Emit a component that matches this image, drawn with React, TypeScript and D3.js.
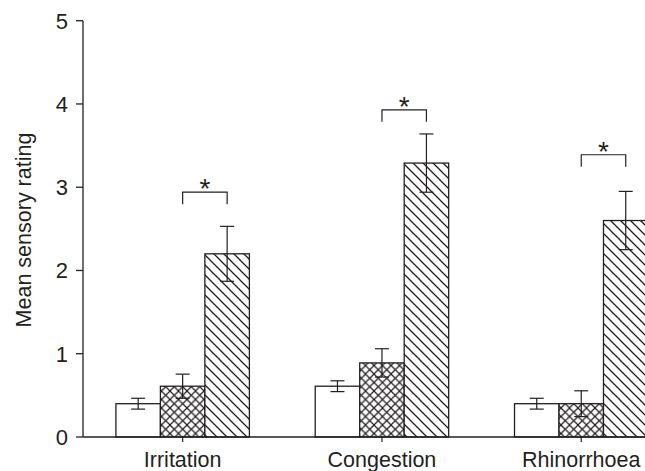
import React from 'react';
import * as d3 from 'd3';

const categories = ['Irritation', 'Congestion', 'Rhinorrhoea'];
const seriesKeys = ['open', 'crosshatch', 'hatched'];
const openMeans = [0.40, 0.61, 0.40];
const openErr = [0.065, 0.065, 0.065];
const crossMeans = [0.61, 0.89, 0.40];
const crossErr = [0.145, 0.17, 0.155];
const hatchMeans = [2.20, 3.29, 2.60];
const hatchErr = [0.33, 0.35, 0.35];
const bracketLevels = [2.94, 3.93, 3.39];
const yTicks = [0, 1, 2, 3, 4, 5];
const yLabel = 'Mean sensory rating';

const W = 645, H = 471;
const axisX = 83;
const INK = '#231f20';
const FONT = '"Liberation Sans", Arial, Helvetica, sans-serif';

export default function App() {
  const y = d3.scaleLinear().domain([0, 5]).range([437, 20.7]);
  const x = d3.scaleBand<string>().domain(categories).range([axisX, axisX + 3 * 199.3]).paddingInner(0).paddingOuter(0);
  const xi = d3.scaleBand<string>().domain(seriesKeys).range([0, x.bandwidth()]).paddingInner(0).paddingOuter(0.74);

  const series = [
    { key: 'open', means: openMeans, errs: openErr, fill: 'white' },
    { key: 'crosshatch', means: crossMeans, errs: crossErr, fill: 'url(#cross)' },
    { key: 'hatched', means: hatchMeans, errs: hatchErr, fill: 'url(#diag)' },
  ];
  const bw = xi.bandwidth();

  return (
    <svg width={W} height={H} style={{ position: 'absolute', left: 0, top: 0, background: 'white' }} fontFamily={FONT}>
      <defs>
        <pattern id="diag" patternUnits="userSpaceOnUse" width={10} height={10}>
          <rect width={10} height={10} fill="white" />
          <line x1={0} y1={0} x2={10} y2={10} stroke={INK} strokeWidth={1.3} />
          <line x1={-5} y1={5} x2={5} y2={15} stroke={INK} strokeWidth={1.3} />
          <line x1={5} y1={-5} x2={15} y2={5} stroke={INK} strokeWidth={1.3} />
        </pattern>
        <pattern id="cross" patternUnits="userSpaceOnUse" width={8.5} height={8.5}>
          <rect width={8.5} height={8.5} fill="white" />
          <line x1={0} y1={0} x2={8.5} y2={8.5} stroke={INK} strokeWidth={1.2} />
          <line x1={0} y1={8.5} x2={8.5} y2={0} stroke={INK} strokeWidth={1.2} />
        </pattern>
      </defs>

      {/* bars */}
      {categories.map((c, ci) => (
        <g key={c}>
          {series.map((s) => {
            const bx = (x(c) as number) + (xi(s.key) as number);
            return (
              <rect key={s.key} x={bx} y={y(s.means[ci])} width={bw} height={y(0) - y(s.means[ci])}
                fill={s.fill} stroke={INK} strokeWidth={1.3} />
            );
          })}
        </g>
      ))}

      {/* error bars */}
      {categories.map((c, ci) => (
        <g key={c + 'e'} stroke={INK} strokeWidth={1.2}>
          {series.map((s) => {
            const cx = (x(c) as number) + (xi(s.key) as number) + bw / 2;
            const hi = y(s.means[ci] + s.errs[ci]);
            const lo = y(s.means[ci] - s.errs[ci]);
            return (
              <g key={s.key}>
                <line x1={cx} x2={cx} y1={hi} y2={lo} />
                <line x1={cx - 7} x2={cx + 7} y1={hi} y2={hi} />
                <line x1={cx - 7} x2={cx + 7} y1={lo} y2={lo} />
              </g>
            );
          })}
        </g>
      ))}

      {/* significance brackets */}
      {categories.map((c, ci) => {
        const x1 = (x(c) as number) + (xi('crosshatch') as number) + bw / 2;
        const x2 = (x(c) as number) + (xi('hatched') as number) + bw / 2;
        const by = y(bracketLevels[ci]);
        return (
          <g key={c + 'b'}>
            <path d={`M${x1},${by + 12}V${by}H${x2}V${by + 12}`} fill="none" stroke={INK} strokeWidth={1.2} />
            <text x={(x1 + x2) / 2} y={by + 6} textAnchor="middle" fontSize={28} fill={INK}>*</text>
          </g>
        );
      })}

      {/* axes */}
      <line x1={axisX} x2={axisX} y1={y(0)} y2={y(5)} stroke={INK} strokeWidth={1.3} />
      <line x1={axisX} x2={W} y1={y(0)} y2={y(0)} stroke={INK} strokeWidth={1.3} />
      {yTicks.map((t) => (
        <g key={t}>
          <line x1={axisX - 7} x2={axisX} y1={y(t)} y2={y(t)} stroke={INK} strokeWidth={1.3} />
          <text x={68} y={y(t) + 7.9} textAnchor="end" fontSize={22} fill={INK}>{t}</text>
        </g>
      ))}
      {categories.map((c) => {
        const cx = (x(c) as number) + x.bandwidth() / 2;
        return (
          <g key={c + 'l'}>
            <line x1={cx} x2={cx} y1={y(0)} y2={y(0) + 5} stroke={INK} strokeWidth={1.2} />
            <text x={cx} y={467} textAnchor="middle" fontSize={21.5} fill={INK}>{c}</text>
          </g>
        );
      })}
      <text transform="translate(31,230) rotate(-90)" textAnchor="middle" fontSize={21.5} fill={INK}>{yLabel}</text>
    </svg>
  );
}
